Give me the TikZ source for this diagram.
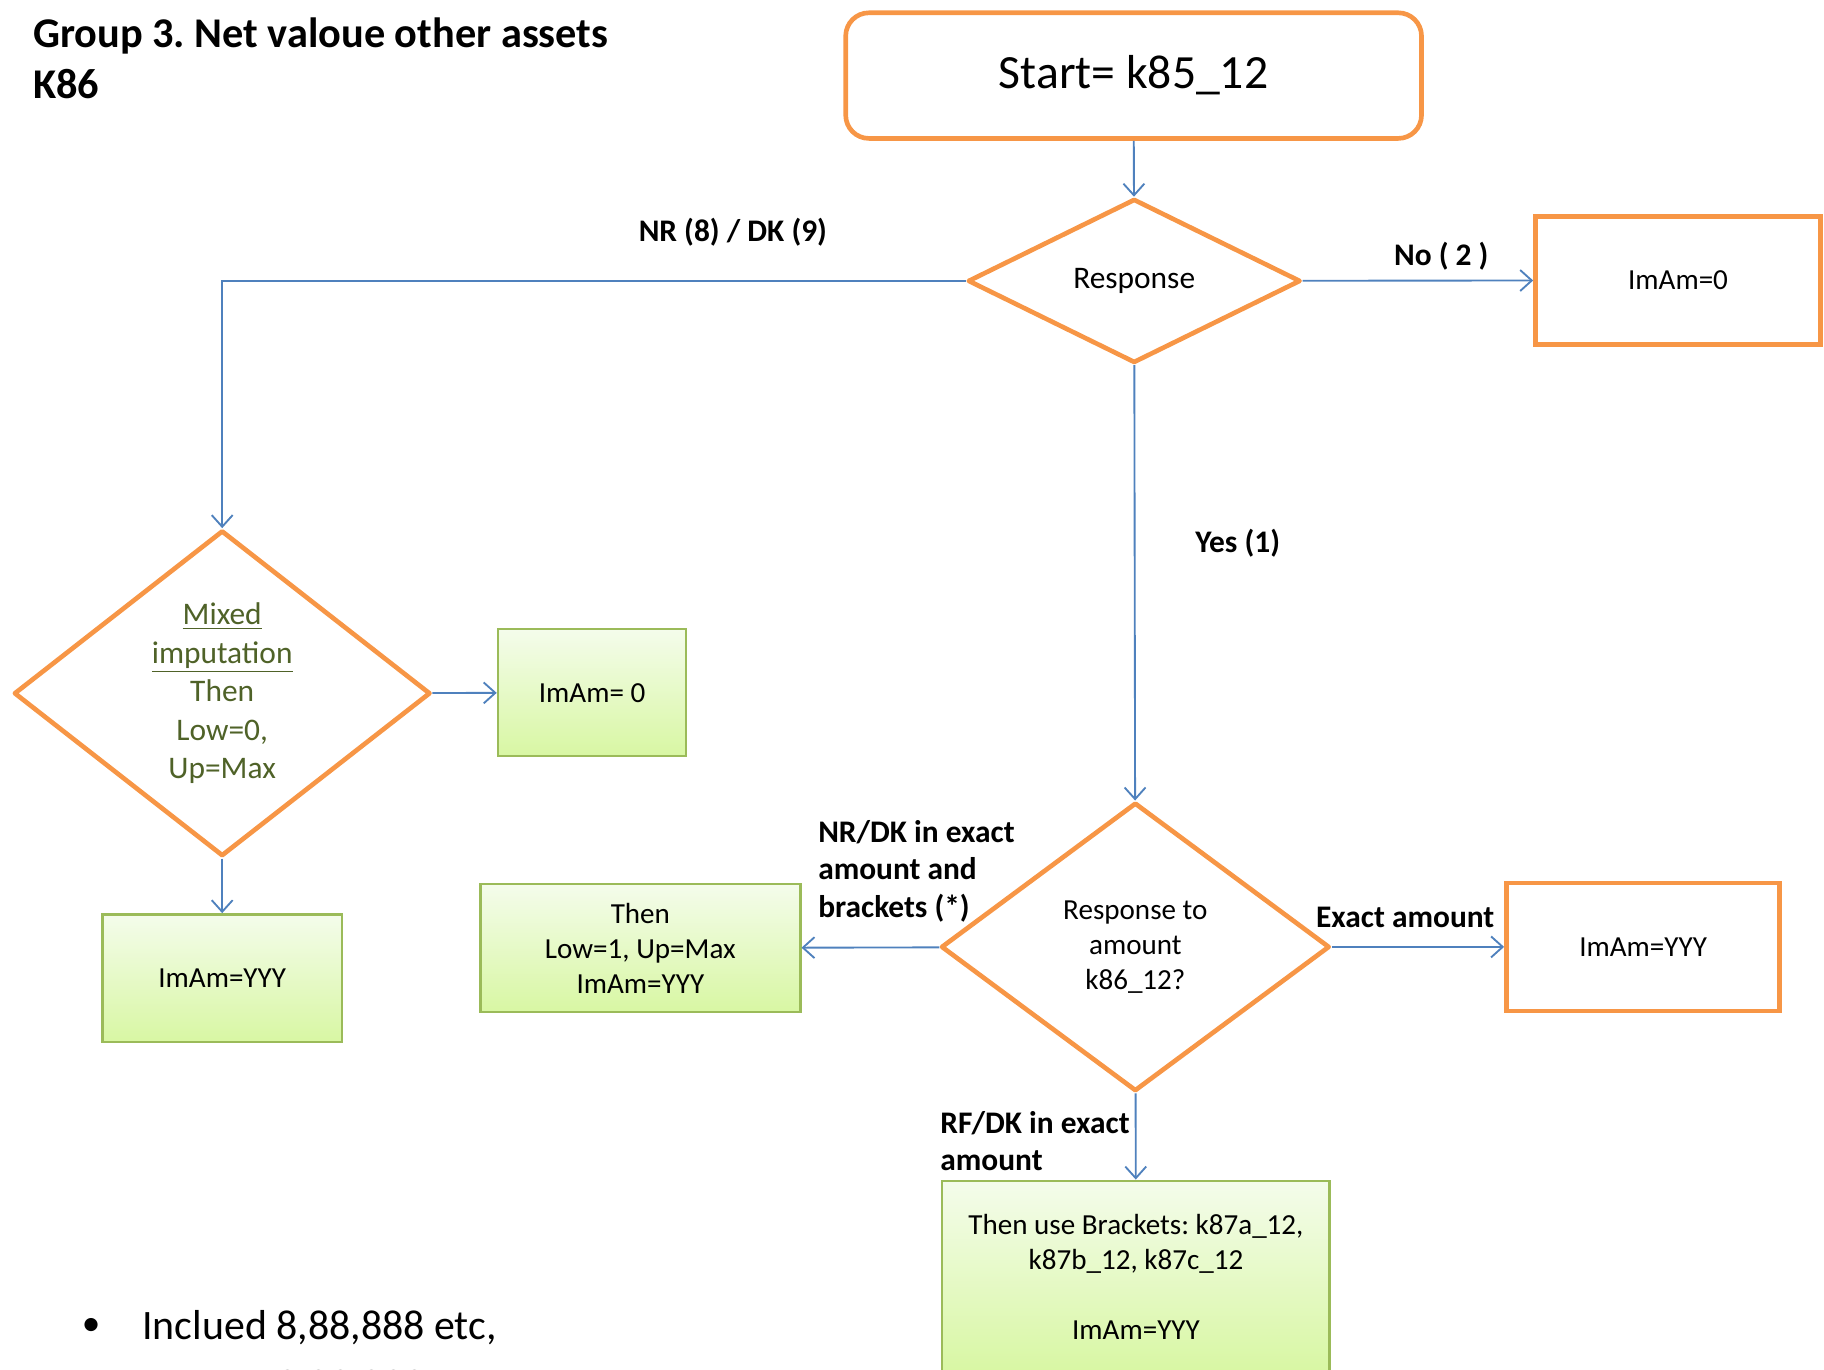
\documentclass[tikz,border=0pt]{standalone}
\usepackage{fontspec}
\setmainfont{Carlito}
\frenchspacing
\usetikzlibrary{arrows.meta,shapes.geometric}
\tikzset{every node/.append style={align=center}}
\definecolor{boxorange}{HTML}{F79646}
\definecolor{lineblue}{HTML}{4F81BD}
\definecolor{boxgreen}{HTML}{9BBB59}
\definecolor{greentop}{HTML}{F4FCEB}
\definecolor{greenbottom}{HTML}{D8F7A3}
\definecolor{olivetext}{HTML}{4F6228}

\begin{document}
\begin{tikzpicture}[x=0.5pt, y=-0.5pt, >={Straight Barb[length=5pt,width=9pt]},
  every node/.style={align=center, font=\fontsize{12.5}{15}\selectfont},
  decision/.style={draw=boxorange, line width=2pt, line join=round, shape=diamond, inner sep=0pt},
  startbox/.style={draw=boxorange, line width=2pt, rounded corners=10pt},
  orangebox/.style={draw=boxorange, line width=2pt},
  greenbox/.style={draw=boxgreen, line width=1pt, top color=greentop, bottom color=greenbottom},
  branch/.style={inner sep=0pt, font=\fontsize{13.5}{16.25}\selectfont\bfseries},
  flow/.style={->, draw=lineblue, line width=0.8pt}]
  \useasboundingbox (0,0) rectangle (1568,1177);
  \node[inner sep=0pt, align=left, anchor=west, font=\fontsize{18.2}{22}\selectfont\bfseries] (title) at (28,50) {Group 3. Net valoue other assets\\K86};
  \node[startbox, minimum width=247.5pt, minimum height=54pt, font=\fontsize{20.5}{24}\selectfont] (start) at (974.5,65) {Start= k85\_12};
  \node[decision, minimum width=143pt, minimum height=70.5pt, font=\fontsize{13.5}{16.5}\selectfont] (resp) at (975,241.5) {Response};
  \node[orangebox, minimum width=122.5pt, minimum height=55pt] (imamzero) at (1442.5,241) {ImAm=0};
  \node[decision, minimum width=179pt, minimum height=140pt, text=olivetext, font=\fontsize{13.5}{16.5}\selectfont] (mixed) at (191,596) {\underline{Mixed}\\\underline{imputation}\\Then\\Low=0,\\Up=Max};
  \node[greenbox, minimum width=81pt, minimum height=54.5pt] (mixedzero) at (509,595.5) {ImAm= 0};
  \node[greenbox, minimum width=103pt, minimum height=55pt] (mixedyyy) at (191,841) {ImAm=YYY};
  \node[decision, minimum width=167pt, minimum height=124pt] (amount) at (976,814) {Response to\\amount\\k86\_12?};
  \node[greenbox, minimum width=137.5pt, minimum height=55pt] (lowone) at (550.5,815) {Then\\Low=1, Up=Max\\ImAm=YYY};
  \node[orangebox, minimum width=117.5pt, minimum height=55pt] (exactyyy) at (1412.5,814) {ImAm=YYY};
  \node[greenbox, minimum width=166.5pt, minimum height=82.5pt] (brackets) at (976.5,1097.5) {Then use Brackets: k87a\_12,\\k87b\_12, k87c\_12\\[15pt]ImAm=YYY};
  % branch labels
  \node[branch] (nrdk) at (630,200) {NR (8) / DK (9)};
  \node[branch] (notwo) at (1239,220) {No ( 2 )};
  \node[branch] (yesone) at (1064,467) {Yes (1)};
  \node[branch, align=left, anchor=west] (nrdkexact) at (703,749) {NR/DK in exact\\amount and\\brackets (*)};
  \node[branch] (exact) at (1208,789) {Exact amount};
  \node[branch, align=left, anchor=west] (rfdk) at (808,981) {RF/DK in exact\\amount};
  % note
  \node[inner sep=0pt, anchor=west, font=\fontsize{16}{22}\selectfont] (bullet) at (70,1141) {\textbullet};
  \node[inner sep=0pt, anchor=west, font=\fontsize{18}{22}\selectfont] (note) at (122,1141) {Inclued 8,88,888 etc,};
  \node[inner sep=0pt, anchor=west, font=\fontsize{18}{22}\selectfont] (notetwo) at (237,1192) {9,99,999 etc};
  \draw[flow] (start) -- (resp);
  \draw[flow] (resp) -- (imamzero);
  \draw[flow] (resp.west) -| (mixed.north);
  \draw[flow] (resp) -- (amount);
  \draw[flow] (mixed) -- (mixedzero);
  \draw[flow] (mixed) -- (mixedyyy);
  \draw[flow] (amount) -- (lowone);
  \draw[flow] (amount) -- (exactyyy);
  \draw[flow] (amount) -- (brackets);
\end{tikzpicture}
\end{document}
